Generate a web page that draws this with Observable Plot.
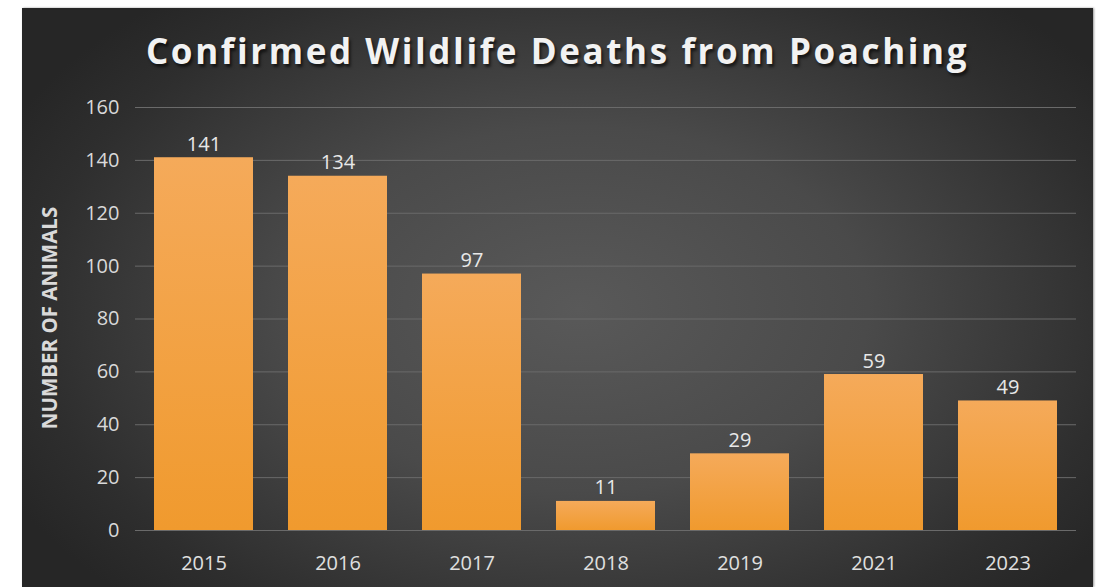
<!DOCTYPE html>
<html>
<head>
<meta charset="utf-8">
<script src="https://cdn.jsdelivr.net/npm/d3@7"></script>
<script src="https://cdn.jsdelivr.net/npm/@observablehq/plot@0.6"></script>
<style>
  html, body { margin: 0; padding: 0; background: #ffffff; }
  #frame {
    position: absolute; left: 22px; top: 8px; width: 1071px; height: 579px;
    background: radial-gradient(ellipse 60% 70% at 52% 52%, #595959 0%, #4a4a4a 45%, #2e2e2e 85%, #262626 100%);
    box-shadow: 1px 0 2px #999;
    overflow: hidden;
  }
  #title {
    height: 80px; line-height: 86px; text-align: center;
    font-family: "Open Sans", sans-serif; font-weight: 700; font-size: 35px;
    letter-spacing: 2.6px; color: #f2f2f2;
    text-shadow: 2px 3px 3px rgba(0,0,0,0.6);
  }
  #chart svg { display: block; }
</style>
</head>
<body>
<div id="frame">
  <div id="title">Confirmed Wildlife Deaths from Poaching</div>
  <div id="chart"></div>
</div>
<script>
const years = ["2015", "2016", "2017", "2018", "2019", "2021", "2023"];
const deaths = [141, 134, 97, 11, 29, 59, 49];
const yTicks = [0, 20, 40, 60, 80, 100, 120, 140, 160];

const data = years.map((y, i) => ({year: y, value: deaths[i]}));

const chart = Plot.plot({
  width: 1071,
  height: 499,
  marginTop: 19,
  marginBottom: 57,
  marginLeft: 113,
  marginRight: 17,
  style: {background: "transparent", fontFamily: "'Open Sans', sans-serif", fontSize: "20px", color: "#d9d9d9"},
  x: {domain: years, paddingInner: 0.26, paddingOuter: 0.13, label: null, tickSize: 0, tickPadding: 25},
  y: {domain: [0, 160], ticks: yTicks, label: null, tickSize: 0, tickPadding: 16},
  marks: [
    Plot.gridY(yTicks, {stroke: "#6a6a6a", strokeOpacity: 1, strokeWidth: 1}),
    Plot.barY(data, {x: "year", y: "value", fill: "url(#barGrad)", style: "filter: drop-shadow(1px 1px 2px rgba(0,0,0,0.7))"}),
    Plot.text(data, {x: "year", y: "value", text: d => String(d.value), lineAnchor: "bottom", dy: -7, fill: "#e8e8e8", fontSize: 20}),
    Plot.axisX({tickSize: 0, tickPadding: 25, fill: "#e0e0e0", label: null, fontSize: 20}),
    Plot.axisY({ticks: yTicks, tickSize: 0, tickPadding: 16, fill: "#d9d9d9", label: null, fontSize: 20})
  ]
});

const ns = "http://www.w3.org/2000/svg";
const defs = document.createElementNS(ns, "defs");
defs.innerHTML = `<linearGradient id="barGrad" x1="0" y1="0" x2="0" y2="1">
  <stop offset="0" stop-color="#f5aa5a"/>
  <stop offset="1" stop-color="#f09a2e"/>
</linearGradient>`;
chart.insertBefore(defs, chart.firstChild);

// Y-axis title
const t = document.createElementNS(ns, "text");
t.setAttribute("transform", "translate(27,230) rotate(-90)");
t.setAttribute("text-anchor", "middle");
t.setAttribute("dominant-baseline", "central");
t.setAttribute("fill", "#d9d9d9");
t.setAttribute("font-weight", "700");
t.setAttribute("font-size", "20.5");
t.setAttribute("font-family", "'Open Sans', sans-serif");
t.textContent = "NUMBER OF ANIMALS";
chart.appendChild(t);

document.getElementById("chart").appendChild(chart);
</script>
</body>
</html>
